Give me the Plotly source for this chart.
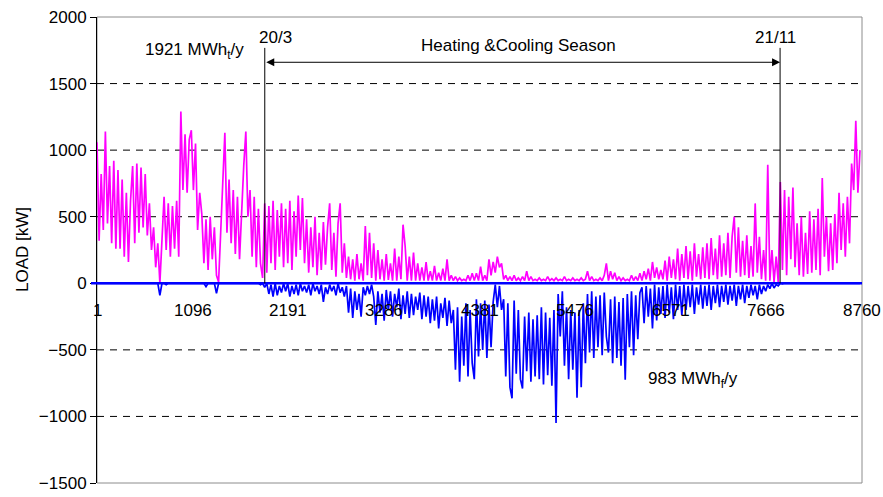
import plotly.graph_objects as go

# Hourly building load over one year, one reading per day (every 24 h).
HOURS_PER_STEP = 24

heating_kw = [
    1060, 320, 820, 400, 1140, 450, 880, 300, 920, 260,
    850, 260, 780, 200, 680, 160, 620, 880, 300, 900,
    380, 870, 420, 820, 360, 600, 250, 420, 120, 300,
    0, 350, 650, 250, 600, 200, 580, 260, 620, 200,
    1290, 700, 1120, 680, 1080, 1150, 700, 1050, 400, 680,
    520, 150, 480, 100, 500, 180, 420, 60, 10, 380,
    800, 1130, 380, 780, 300, 700, 220, 650, 180, 600,
    880, 1140, 500, 700, 200, 650, 120, 560, 150, 40,
    600, 80, 580, 150, 620, 100, 550, 200, 600, 120,
    560, 150, 620, 100, 540, 200, 660, 250, 640, 150,
    480, 80, 420, 120, 500, 60, 380, 100, 460, 140,
    420, 600, 100, 380, 50, 450, 600, 80, 300, 40,
    200, 30, 180, 20, 220, 30, 150, 20, 430, 60,
    380, 40, 300, 20, 250, 30, 180, 20, 220, 25,
    150, 20, 260, 20, 200, 30, 440, 280, 20, 200,
    20, 230, 20, 150, 20, 120, 20, 160, 20, 90,
    20, 130, 20, 80, 20, 110, 20, 180, 20, 60,
    20, 50, 20, 40, 20, 30, 20, 60, 20, 75,
    20, 75, 20, 125, 20, 60, 20, 180, 60, 160,
    80, 200, 120, 150, 30, 60, 20, 50, 20, 60,
    20, 40, 20, 50, 20, 90, 20, 50, 20, 30,
    20, 40, 20, 30, 20, 50, 20, 35, 20, 40,
    20, 30, 20, 50, 20, 30, 20, 40, 20, 30,
    20, 40, 20, 30, 90, 20, 50, 20, 30, 20,
    40, 20, 60, 150, 20, 90, 30, 80, 20, 50,
    20, 40, 20, 30, 20, 60, 20, 50, 20, 75,
    20, 90, 30, 110, 20, 160, 40, 120, 30, 100,
    30, 170, 20, 200, 40, 180, 30, 260, 20, 220,
    40, 280, 30, 240, 20, 300, 50, 220, 30, 270,
    40, 300, 30, 340, 60, 260, 30, 360, 50, 300,
    60, 380, 40, 350, 500, 80, 420, 50, 320, 60,
    360, 40, 280, 50, 600, 80, 350, 30, 250, 20,
    890, 20, 250, 10, 200, 10, 760, 100, 700, 60,
    650, 180, 720, 120, 450, 60, 500, 50, 380, 70,
    540, 80, 480, 100, 560, 60, 790, 200, 500, 90,
    450, 100, 520, 150, 680, 250, 600, 200, 650, 300,
    900, 700, 1220, 680, 1000,
]

cooling_kw = [
    0, 0, 0, 0, 0, 0, 0, 0, 0, 0,
    0, 0, 0, 0, 0, 0, 0, 0, 0, 0,
    0, 0, 0, 0, 0, 0, 0, 0, 0, 0,
    -90, 0, 0, -10, 0, 0, 0, 0, 0, 0,
    0, 0, 0, 0, 0, 0, 0, 0, 0, 0,
    0, 0, -25, 0, 0, 0, 0, -75, 0, 0,
    0, 0, 0, 0, 0, 0, 0, 0, 0, 0,
    0, 0, 0, 0, 0, 0, 0, 0, -10, 0,
    -30, 0, -80, -10, -100, 0, -90, -20, -70, 0,
    -60, 0, -100, -20, -80, -10, -90, 0, -60, -20,
    -70, -10, -90, 0, -60, -20, -80, -10, -140, -30,
    -80, -10, -60, -20, -90, 0, -70, -30, -100, -20,
    -220, -40, -260, -60, -200, -80, -250, -30, -90, -20,
    -80, -10, -100, -313, -60, -220, -80, -280, -50, -200,
    -60, -250, -80, -180, -40, -270, -90, -230, -60, -260,
    -80, -240, -100, -200, -70, -270, -90, -250, -100, -300,
    -120, -280, -100, -340, -150, -260, -110, -320, -130, -300,
    -200, -650, -180, -740, -250, -620, -150, -700, -200, -600,
    -720, -120, -550, -150, -500, -130, -560, -160, -480, -140,
    -10, -180, -20, -200, -120, -700, -150, -780, -864, -130,
    -680, -200, -720, -790, -250, -660, -220, -740, -270, -700,
    -240, -720, -180, -760, -220, -690, -260, -770, -200, -1050,
    -80, -400, -60, -620, -180, -720, -200, -650, -220, -860,
    -200, -780, -150, -600, -80, -520, -60, -560, -100, -480,
    -90, -540, -70, -400, -520, -120, -600, -100, -560, -140,
    -620, -110, -725, -80, -480, -60, -540, -90, -420, -70,
    -30, -300, -20, -250, -40, -340, -10, -280, -30, -230,
    -20, -260, -10, -220, -30, -270, -10, -200, -20, -240,
    -10, -200, -20, -180, -10, -230, -30, -160, -10, -190,
    -20, -170, -10, -200, -20, -150, -10, -180, -20, -140,
    -10, -160, -20, -130, -10, -170, -20, -120, -10, -150,
    -20, -110, -10, -90, -20, -120, -10, -80, -20, -60,
    -10, -40, 0, -35, -10, -20, 0, -5, 0, 0,
    0, 0, 0, 0, 0, 0, 0, 0, 0, 0,
    0, 0, 0, 0, 0, 0, 0, 0, 0, 0,
    0, 0, 0, 0, 0, 0, 0, 0, 0, 0,
    0, 0, 0, 0, 0,
]

hours = [1 + HOURS_PER_STEP * i for i in range(len(heating_kw))]

X_TICKS = [1, 1096, 2191, 3286, 4381, 5476, 6571, 7666, 8760]
Y_TICKS = [-1500, -1000, -500, 0, 500, 1000, 1500, 2000]

SEASON_START_H = 1922   # 20/3
SEASON_END_H = 7822     # 21/11
SEASON_TEXT = "Heating &Cooling Season"
HEATING_TOTAL = "1921 MWh<sub>t</sub>/y"
COOLING_TOTAL = "983 MWh<sub>f</sub>/y"

FONT = "Liberation Sans, Arial, sans-serif"
FS = 17

fig = go.Figure()
fig.add_trace(go.Scatter(x=hours, y=heating_kw, mode="lines",
                         line=dict(color="#FF00FF", width=1.7),
                         showlegend=False, hoverinfo="skip"))
fig.add_trace(go.Scatter(x=hours, y=cooling_kw, mode="lines",
                         line=dict(color="#0000FF", width=1.7),
                         showlegend=False, hoverinfo="skip"))

shapes = []
# plot-area frame
shapes.append(dict(type="rect", xref="paper", yref="paper", x0=0, x1=1, y0=0, y1=1,
                   line=dict(color="#8c8c8c", width=1), layer="below"))
# dashed horizontal gridlines
for v in Y_TICKS:
    if v in (min(Y_TICKS), max(Y_TICKS), 0):
        continue
    shapes.append(dict(type="line", xref="paper", yref="y", x0=0, x1=1, y0=v, y1=v,
                       line=dict(color="black", width=1, dash="7px,6px"), layer="below"))
# zero axis
shapes.append(dict(type="line", xref="paper", yref="y", x0=-6 / 765, x1=1, y0=0, y1=0,
                   line=dict(color="#0000FF", width=2.5), layer="above"))
# season boundaries
for h in (SEASON_START_H, SEASON_END_H):
    shapes.append(dict(type="line", xref="x", yref="y", x0=h, x1=h, y0=0, y1=1768,
                       line=dict(color="black", width=1), layer="above"))

annotations = []
for h in X_TICKS:
    annotations.append(dict(x=h, y=0, xref="x", yref="y", text=str(h), showarrow=False,
                            yshift=-27, xanchor="center", yanchor="middle",
                            font=dict(family=FONT, size=FS, color="black")))
annotations.append(dict(x=SEASON_END_H, y=1660, ax=SEASON_START_H, ay=1660,
                        xref="x", yref="y", axref="x", ayref="y", text="",
                        showarrow=True, arrowhead=2, arrowside="end+start",
                        arrowsize=1.6, arrowwidth=1, arrowcolor="black",
                        standoff=0, startstandoff=0))
text_items = [
    (2048, 1845, "20/3"),
    (7773, 1845, "21/11"),
    (4827, 1783, SEASON_TEXT),
    (1122, 1745, HEATING_TOTAL),
    (6824, -727, COOLING_TOTAL),
]
for x, y, t in text_items:
    annotations.append(dict(x=x, y=y, xref="x", yref="y", text=t, showarrow=False,
                            xanchor="center", yanchor="middle",
                            font=dict(family=FONT, size=FS, color="black")))
annotations.append(dict(x=0, y=0.5, xref="paper", yref="paper", text="LOAD [kW]",
                        showarrow=False, textangle=-90, xshift=-75,
                        xanchor="center", yanchor="middle",
                        font=dict(family=FONT, size=FS, color="black")))

fig.update_layout(
    width=883, height=497,
    margin=dict(l=97, r=21, t=17, b=14, autoexpand=False),
    paper_bgcolor="white", plot_bgcolor="white",
    font=dict(family=FONT, size=FS, color="black"),
    xaxis=dict(range=[1, 8760], showticklabels=False, showgrid=False,
               zeroline=False, showline=False, ticks="", automargin=False),
    yaxis=dict(range=[-1500, 2000], tickvals=Y_TICKS, ticks="outside", ticklen=6,
               tickcolor="black", showline=True, linecolor="black", linewidth=1,
               showgrid=False, zeroline=False, automargin=False,
               tickfont=dict(family=FONT, size=FS, color="black")),
    shapes=shapes,
    annotations=annotations,
)

fig.write_html("out.html")
